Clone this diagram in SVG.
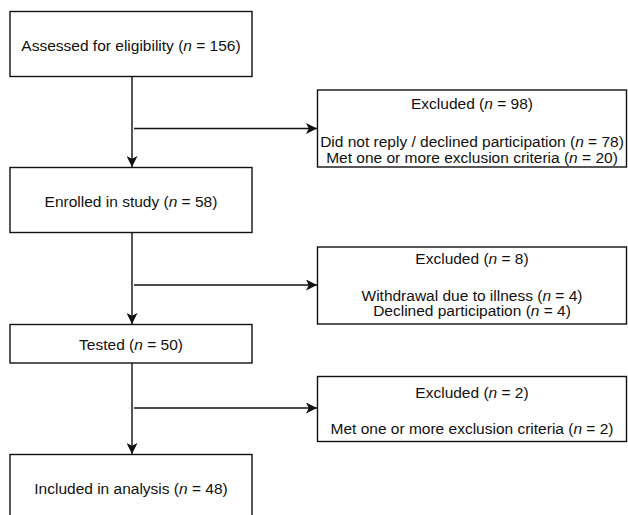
<svg xmlns="http://www.w3.org/2000/svg" width="628" height="515" viewBox="0 0 628 515">
<style>
.box{fill:#fff;stroke:#111;stroke-width:1.4}
.t{font-family:"Liberation Sans",Arial,sans-serif;font-size:15.5px;fill:#111;text-anchor:middle}
.i{font-style:italic}
.c{fill:none;stroke:#111;stroke-width:1.4}
</style>
<defs>
<marker id="a" viewBox="0 0 10 10" refX="10" refY="5" markerWidth="11" markerHeight="11" markerUnits="userSpaceOnUse" orient="auto">
<path d="M0,0 L10,5 L0,10 L2.5,5 Z" fill="#111"/>
</marker>
</defs>
<rect width="628" height="515" fill="#fff"/>
<g id="connectors">
<line class="c" x1="132" y1="77" x2="132" y2="167" marker-end="url(#a)"/>
<line class="c" x1="134" y1="128.5" x2="317" y2="128.5" marker-end="url(#a)"/>
<line class="c" x1="132" y1="232" x2="132" y2="324" marker-end="url(#a)"/>
<line class="c" x1="134" y1="285" x2="317" y2="285" marker-end="url(#a)"/>
<line class="c" x1="132" y1="363" x2="132" y2="454" marker-end="url(#a)"/>
<line class="c" x1="134" y1="408" x2="317" y2="408" marker-end="url(#a)"/>
</g>
<g id="assessed">
<rect class="box" x="10" y="11.5" width="242" height="65"/>
<text class="t" x="131" y="50.5">Assessed for eligibility (<tspan class="i">n</tspan> = 156)</text>
</g>
<g id="excluded1">
<rect class="box" x="317.5" y="90" width="309" height="77"/>
<text class="t" x="472" y="108.5">Excluded (<tspan class="i">n</tspan> = 98)</text>
<text class="t" x="472" y="147">Did not reply / declined participation (<tspan class="i">n</tspan> = 78)</text>
<text class="t" x="472" y="162.5">Met one or more exclusion criteria (<tspan class="i">n</tspan> = 20)</text>
</g>
<g id="enrolled">
<rect class="box" x="10" y="167.5" width="242" height="65"/>
<text class="t" x="131" y="207">Enrolled in study (<tspan class="i">n</tspan> = 58)</text>
</g>
<g id="excluded2">
<rect class="box" x="317.5" y="247" width="309" height="77"/>
<text class="t" x="472" y="263.5">Excluded (<tspan class="i">n</tspan> = 8)</text>
<text class="t" x="472" y="300.5">Withdrawal due to illness (<tspan class="i">n</tspan> = 4)</text>
<text class="t" x="472" y="316">Declined participation (<tspan class="i">n</tspan> = 4)</text>
</g>
<g id="tested">
<rect class="box" x="10" y="324.5" width="242" height="38.5"/>
<text class="t" x="131" y="349.5">Tested (<tspan class="i">n</tspan> = 50)</text>
</g>
<g id="excluded3">
<rect class="box" x="317.5" y="376.5" width="309" height="65"/>
<text class="t" x="472" y="397.5">Excluded (<tspan class="i">n</tspan> = 2)</text>
<text class="t" x="472" y="433.5">Met one or more exclusion criteria (<tspan class="i">n</tspan> = 2)</text>
</g>
<g id="included">
<rect class="box" x="10" y="454.5" width="242" height="70"/>
<text class="t" x="131" y="493.5">Included in analysis (<tspan class="i">n</tspan> = 48)</text>
</g>
</svg>
